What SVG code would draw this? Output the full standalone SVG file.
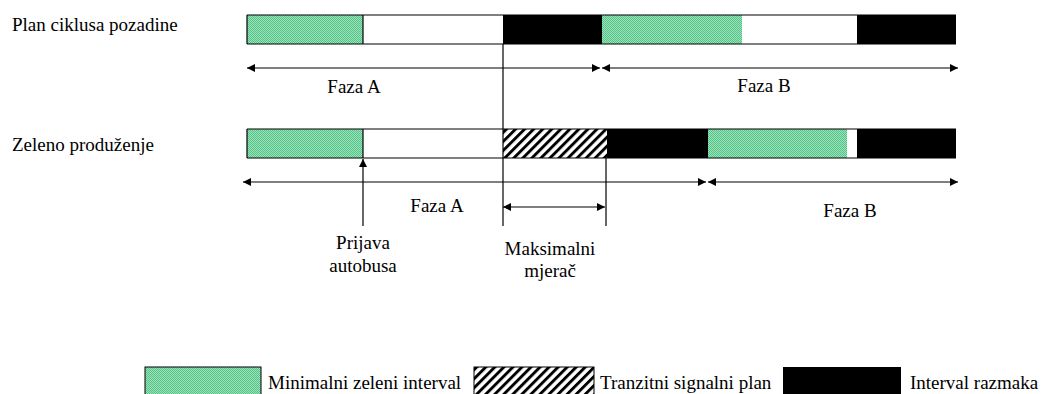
<svg xmlns="http://www.w3.org/2000/svg" width="1043" height="394" viewBox="0 0 1043 394">
<style>
text{font-family:'Liberation Serif','Times New Roman',serif;font-size:19px;fill:#000}
.ln{stroke:#000;stroke-width:1.2;fill:none}
.g{fill:url(#green)}
.h{fill:url(#hatch)}
.k{fill:#000}
.w{fill:#fff}
</style>
<defs>
<pattern id="green" width="2" height="2" patternUnits="userSpaceOnUse">
<rect width="2" height="2" fill="#9fe3bd"/>
<rect width="1" height="1" fill="#52c286"/>
<rect x="1" y="1" width="1" height="1" fill="#52c286"/>
</pattern>
<pattern id="hatch" width="6.4" height="8" patternUnits="userSpaceOnUse" patternTransform="rotate(45)">
<rect width="6.4" height="8" fill="#fff"/>
<rect width="2.9" height="8" fill="#000"/>
</pattern>
<marker id="ah" viewBox="0 0 10 10" refX="10" refY="5" markerWidth="10" markerHeight="8" markerUnits="userSpaceOnUse" orient="auto-start-reverse">
<path d="M0,0 L10,5 L0,10 z" fill="#000"/>
</marker>
</defs>

<g id="labels">
<text x="12" y="31">Plan ciklusa pozadine</text>
<text x="12" y="151">Zeleno produženje</text>
</g>

<g id="row1">
<rect class="g" x="247" y="15" width="116" height="29"/>
<rect class="w" x="363" y="15" width="140" height="29"/>
<rect class="k" x="503" y="15" width="99" height="29"/>
<rect class="g" x="602" y="15" width="140" height="29"/>
<rect class="w" x="742" y="15" width="115" height="29"/>
<rect class="k" x="857" y="15" width="99" height="29"/>
<line class="ln" x1="247" y1="15" x2="956" y2="15"/>
<line class="ln" x1="247" y1="44" x2="956" y2="44"/>
<line class="ln" x1="247" y1="15" x2="247" y2="44"/>
<line class="ln" x1="363" y1="15" x2="363" y2="44"/>
</g>

<g id="row2">
<rect class="g" x="247" y="129" width="116" height="29"/>
<rect class="w" x="363" y="129" width="140" height="29"/>
<rect class="h" x="503" y="129" width="104" height="29"/>
<rect class="k" x="607" y="129" width="101" height="29"/>
<rect class="g" x="708" y="129" width="139" height="29"/>
<rect class="w" x="847" y="129" width="10" height="29"/>
<rect class="k" x="857" y="129" width="99" height="29"/>
<line class="ln" x1="247" y1="129" x2="956" y2="129"/>
<line class="ln" x1="247" y1="158" x2="956" y2="158"/>
<line class="ln" x1="247" y1="129" x2="247" y2="158"/>
<line class="ln" x1="363" y1="129" x2="363" y2="158"/>
</g>

<g id="connectors">
<line class="ln" x1="503" y1="44" x2="503" y2="226"/>
<line class="ln" x1="606" y1="158" x2="606" y2="226"/>
<line class="ln" x1="363" y1="226" x2="363" y2="159" marker-end="url(#ah)"/>
<line class="ln" x1="247" y1="68" x2="600" y2="68" marker-start="url(#ah)" marker-end="url(#ah)"/>
<line class="ln" x1="602" y1="68" x2="958" y2="68" marker-start="url(#ah)" marker-end="url(#ah)"/>
<line class="ln" x1="243" y1="182" x2="706" y2="182" marker-start="url(#ah)" marker-end="url(#ah)"/>
<line class="ln" x1="708" y1="182" x2="958" y2="182" marker-start="url(#ah)" marker-end="url(#ah)"/>
<line class="ln" x1="503" y1="207" x2="605" y2="207" marker-start="url(#ah)" marker-end="url(#ah)"/>
</g>

<g id="phase-labels" text-anchor="middle">
<text x="354" y="93">Faza A</text>
<text x="764" y="92">Faza B</text>
<text x="437" y="212">Faza A</text>
<text x="850" y="217">Faza B</text>
<text x="363" y="249">Prijava</text>
<text x="363" y="272">autobusa</text>
<text x="550" y="255">Maksimalni</text>
<text x="550" y="277">mjerač</text>
</g>

<g id="legend">
<rect class="g" x="145" y="367" width="116" height="30" stroke="#000" stroke-width="1"/>
<text x="268" y="389">Minimalni zeleni interval</text>
<rect class="h" x="474" y="367" width="120" height="30" stroke="#000" stroke-width="1"/>
<text x="600" y="389">Tranzitni signalni plan</text>
<rect class="k" x="783" y="367" width="118" height="30"/>
<text x="910" y="389">Interval razmaka</text>
</g>
</svg>
